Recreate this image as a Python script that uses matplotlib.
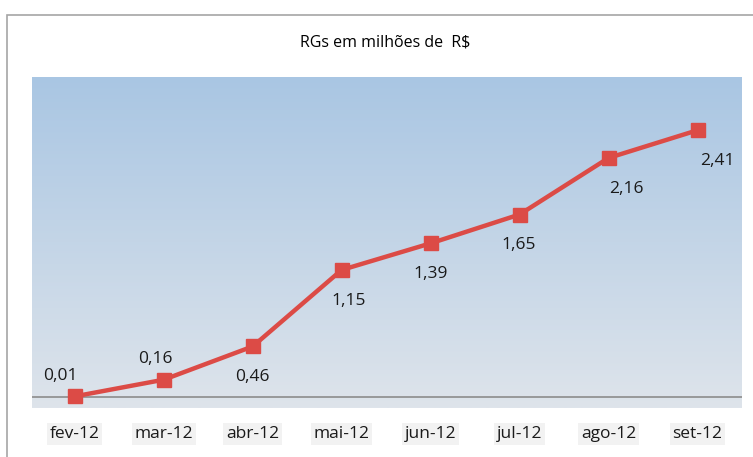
import numpy as np
import matplotlib.pyplot as plt
from matplotlib.colors import LinearSegmentedColormap
from matplotlib.patches import Rectangle

meses = ["fev-12", "mar-12", "abr-12", "mai-12", "jun-12", "jul-12", "ago-12", "set-12"]
valores = [0.01, 0.16, 0.46, 1.15, 1.39, 1.65, 2.16, 2.41]
titulo = "RGs em milhões de  R$"

# label placement: above for the first two, below for the rest
acima = [True, True, False, False, False, False, False, False]
desloc_x = [-10, -6, 0, 5, 0, -1, 13, 14]

plt.rcParams['font.family'] = ['Open Sans', 'DejaVu Sans']

fig = plt.figure(figsize=(7.53, 4.57), dpi=100)

# outer chart frame
fig.patches.append(Rectangle((7 / 753, -0.02), 1.0, (457 - 15) / 457 + 0.02,
                             transform=fig.transFigure, fill=False,
                             edgecolor="#a6a6a6", linewidth=1.2))

ax = fig.add_axes([32 / 753, 1 - 408 / 457, (742 - 32) / 753, (408 - 77) / 457])

x = np.arange(len(meses))
ax.set_xlim(-0.48, 7.5)
ax.set_ylim(-0.095, 2.89)

# vertical gradient background
cmap = LinearSegmentedColormap.from_list("fundo", ["#dee4eb", "#a9c6e3"])
grad = np.linspace(0, 1, 256).reshape(-1, 1)
ax.imshow(grad, aspect="auto", cmap=cmap, origin="lower",
          extent=[-0.48, 7.5, -0.095, 2.89], zorder=0)

ax.axhline(0, color="#8c8c8c", linewidth=1.2, zorder=1)

ax.plot(x, valores, color="#dc4b46", linewidth=3.2, marker="s",
        markersize=10, markerfacecolor="#dc4b46", markeredgecolor="#dc4b46", zorder=3)

for xi, v, up, dx in zip(x, valores, acima, desloc_x):
    txt = f"{v:.2f}".replace(".", ",")
    ax.annotate(txt, (xi, v), xytext=(dx, 15 if up else -22),
                textcoords="offset points", ha="center", va="center",
                fontsize=12.5, color="#1a1a1a", zorder=4)

for s in ax.spines.values():
    s.set_visible(False)
ax.set_yticks([])
ax.set_xticks(x)
ax.set_xticklabels(meses, fontsize=12.5, color="#1a1a1a")
ax.tick_params(axis="x", length=0, pad=13)
for lbl in ax.get_xticklabels():
    lbl.set_bbox(dict(facecolor="#f2f2f2", edgecolor="none", pad=2))

fig.text(385 / 753, 1 - 42 / 457, titulo, ha="center", va="center",
         fontsize=11.5, color="#000000")

fig.savefig("out.png", dpi=100)
